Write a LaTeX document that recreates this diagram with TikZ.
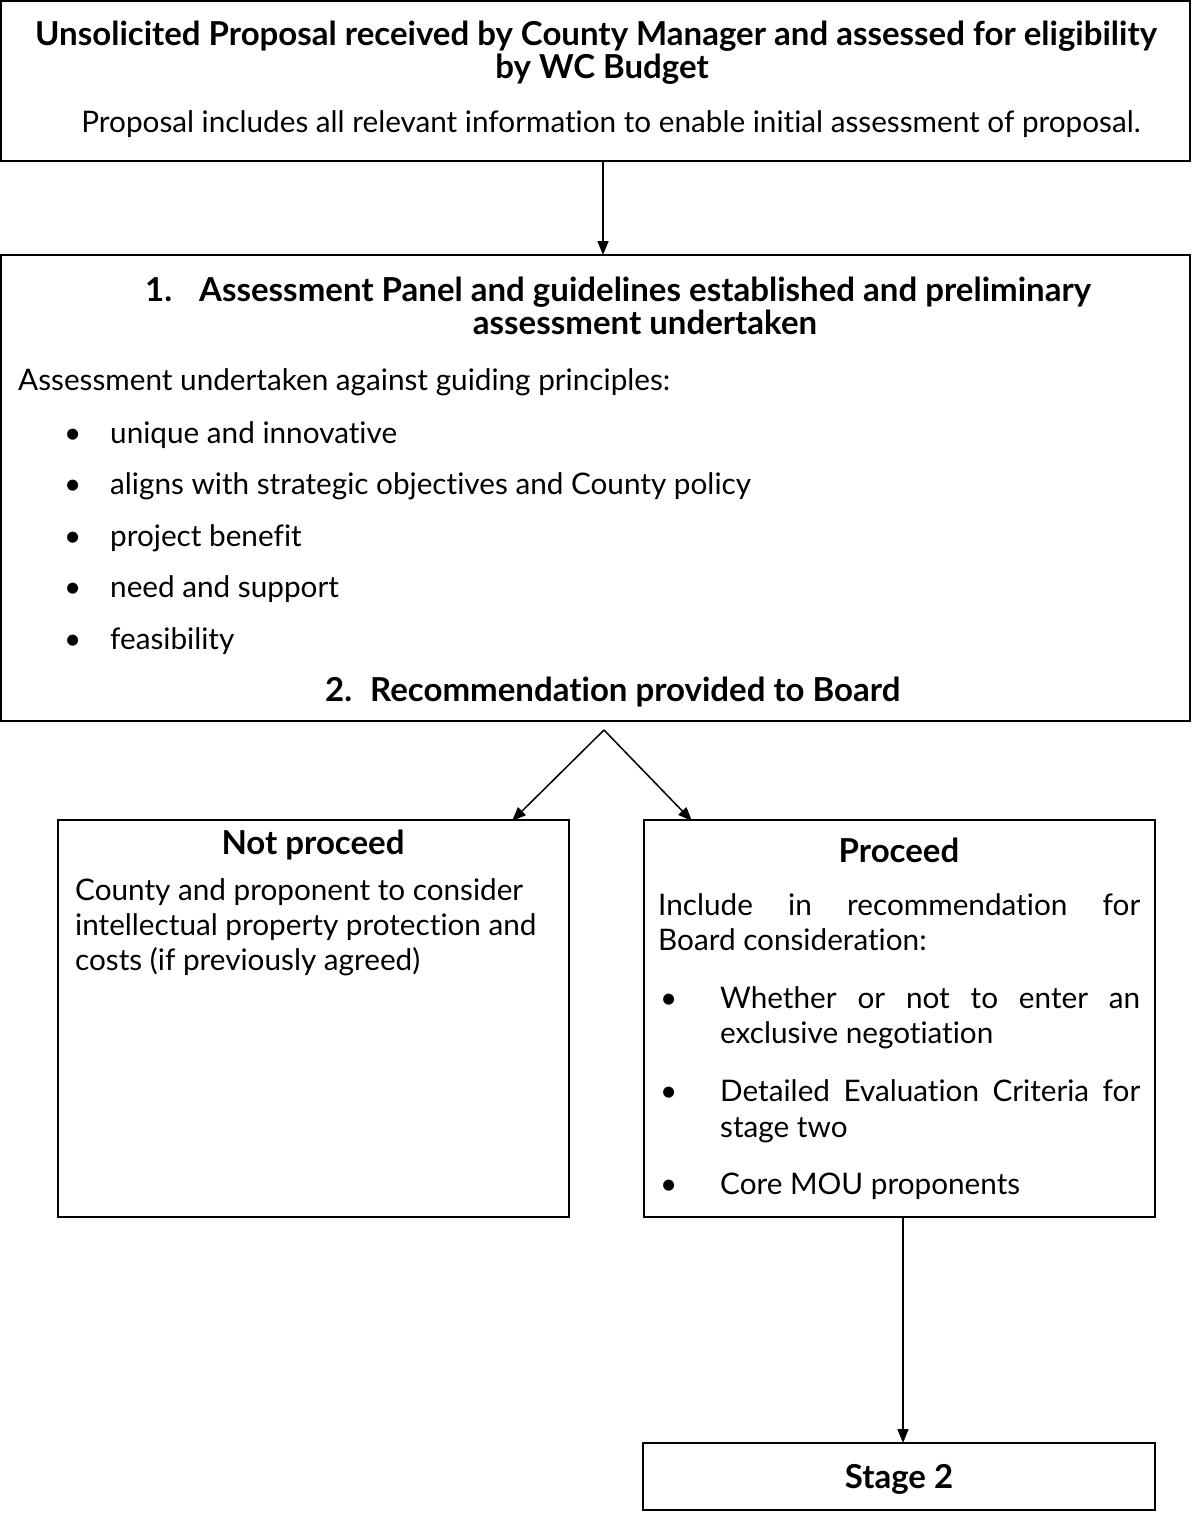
\documentclass[tikz,border=0pt]{standalone}
\usepackage{fontspec}
\setmainfont{Lato}[Ligatures=NoCommon]
\usetikzlibrary{arrows.meta}
\begin{document}
\begin{tikzpicture}[x=1pt,y=-1pt,
    box/.style={shape=rectangle,draw=black,line width=2pt,inner sep=0pt},
    body/.style={inner sep=0pt,anchor=base west,font=\fontsize{29.7}{34}\selectfont},
    bodymid/.style={body,anchor=base},
    head/.style={body,font=\bfseries\fontsize{33}{38}\selectfont},
    headmid/.style={head,anchor=base},
    link/.style={line width=1.5pt,-{Triangle[length=14pt,width=11pt]}}]
    \useasboundingbox (0,0) rectangle (1192,1513);
    % boxes
    \node[box,minimum width=1189,minimum height=160] (recv) at (595.5,81) {};
    \node[box,minimum width=1189,minimum height=466] (panel) at (595.5,488) {};
    \node[box,minimum width=511,minimum height=397] (noproc) at (313.5,1018.5) {};
    \node[box,minimum width=511,minimum height=397] (proc) at (899.5,1018.5) {};
    \node[box,minimum width=512,minimum height=67] (stage) at (899,1476.5) {};
    % top box
    \node[headmid] (recv-t1) at (596,45) {Unsolicited Proposal received by County Manager and assessed for eligibility};
    \node[headmid] (recv-t2) at (602,78) {by WC Budget};
    \node[bodymid] (recv-b) at (611,132) {Proposal includes all relevant information to enable initial assessment of proposal.};
    % panel
    \node[head] (panel-n1) at (145,301) {1.};
    \node[headmid] (panel-t1) at (645,301) {Assessment Panel and guidelines established and preliminary};
    \node[headmid] (panel-t2) at (645,334) {assessment undertaken};
    \node[body] (panel-b) at (18,390) {Assessment undertaken against guiding principles:};
    \foreach \y/\txt [count=\i] in {443/unique and innovative,
        494/aligns with strategic objectives and County policy,
        546/project benefit, 597/need and support, 649/feasibility} {
        \node[body] (dot-\i) at (64,\y) {\textbullet};
        \node[body] (pr-\i) at (110,\y) {\txt};
    }
    \node[head] (panel-n2) at (325,701) {2.};
    \node[head] (panel-t3) at (370,701) {Recommendation provided to Board};
    % not proceed
    \node[headmid] (noproc-t) at (313,854) {Not proceed};
    \node[body] (noproc-b1) at (75,900) {County and proponent to consider};
    \node[body] (noproc-b2) at (75,935) {intellectual property protection and};
    \node[body] (noproc-b3) at (75,970) {costs (if previously agreed)};
    % proceed
    \node[headmid] (proc-t) at (899,862) {Proceed};
    \node[body] (proc-b1) at (658,915) {\makebox[482pt][s]{Include in recommendation for}};
    \node[body] (proc-b2) at (658,950) {Board consideration:};
    \node[body] (proc-d1) at (660,1008) {\textbullet};
    \node[body] (proc-i1) at (720,1008) {\makebox[420pt][s]{Whether or not to enter an}};
    \node[body] (proc-i1b) at (720,1043) {exclusive negotiation};
    \node[body] (proc-d2) at (660,1101) {\textbullet};
    \node[body] (proc-i2) at (720,1101) {\makebox[420pt][s]{Detailed Evaluation Criteria for}};
    \node[body] (proc-i2b) at (720,1137) {stage two};
    \node[body] (proc-d3) at (660,1194) {\textbullet};
    \node[body] (proc-i3) at (720,1194) {Core MOU proponents};
    % stage 2
    \node[headmid] (stage-t) at (899,1488) {Stage 2};
    % connectors
    \coordinate (recv-out) at (603,161);
    \coordinate (panel-in) at (603,255);
    \coordinate (split) at (604,730);
    \coordinate (noproc-in) at (512,821);
    \coordinate (proc-in) at (692,821);
    \coordinate (proc-out) at (903,1217);
    \coordinate (stage-in) at (903,1443);
    \path [link] (recv-out) edge (panel-in);
    \path [link] (split) edge (noproc-in);
    \path [link] (split) edge (proc-in);
    \path [link] (proc-out) edge (stage-in);
\end{tikzpicture}
\end{document}
